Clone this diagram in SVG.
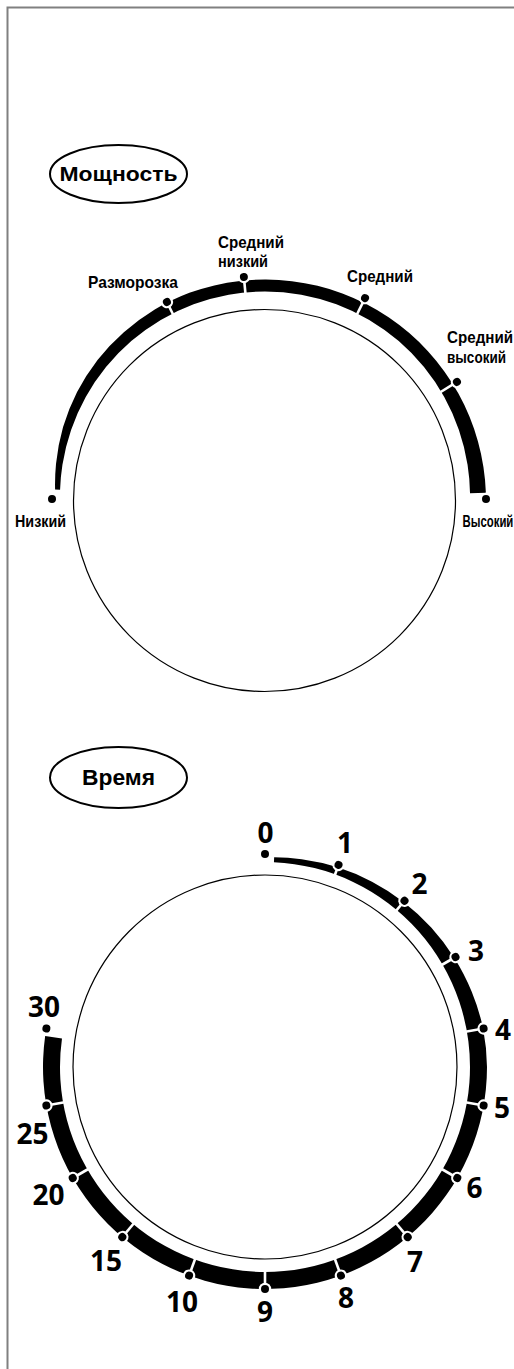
<svg xmlns="http://www.w3.org/2000/svg" width="514" height="1369" viewBox="0 0 514 1369">
<style>
.frame{fill:none;stroke:#808080;stroke-width:2}
.dial{fill:none;stroke:#000;stroke-width:1.2}
.band{fill:#000}
.gap{stroke:#fff;stroke-width:2.6}
.halo{fill:#fff}
.dot{fill:#000}
.oval{fill:none;stroke:#000;stroke-width:2}
.title{font-family:"Liberation Sans",Arial,sans-serif;font-weight:bold;font-size:21px;text-anchor:middle}
.pl{font-family:"Liberation Sans",Arial,sans-serif;font-weight:bold;font-size:16.5px}
.tl{font-family:"Open Sans",sans-serif;font-weight:700;font-size:28px;text-anchor:middle}
</style>
<defs>
<g id="pm"><line class="gap" x1="0" y1="0" x2="0" y2="22"/><circle class="halo" r="6.2"/><circle class="dot" r="4"/></g>
<g id="tm"><line class="gap" x1="0" y1="0" x2="0" y2="20"/><circle class="halo" r="6.2"/><circle class="dot" r="4"/></g>
<g id="em"><circle class="halo" r="6.2"/><circle class="dot" r="4"/></g>
</defs>
<rect width="514" height="1369" fill="#fff"/>
<path class="frame" d="M7.5,1369 V7.5 H514"/>

<g id="power-title">
<ellipse class="oval" cx="118.5" cy="174" rx="68.5" ry="29"/>
<text class="title" x="118.5" y="180.5" textLength="118" lengthAdjust="spacingAndGlyphs">Мощность</text>
</g>

<g id="power-dial">
<circle class="dial" cx="264.5" cy="500.5" r="191"/>
<path class="band" d="M55.09,489.50 A211,211 0 0 1 56.02,463.65 A213,213 0 0 1 63.06,427.00 A216,216 0 0 1 77.07,392.00 A218,218 0 0 1 97.54,359.99 A219,219 0 0 1 123.84,332.28 A220,220 0 0 1 154.75,309.54 A221,221 0 0 1 189.41,292.83 A221,221 0 0 1 485.87,492.79 L470.01,493.34 A205.5,205.5 0 0 0 467.57,464.78 A206,206 0 0 0 458.92,429.92 A206.7,206.7 0 0 0 444.27,397 A207.3,207.3 0 0 0 424.01,367.08 A207.8,207.8 0 0 0 398.74,341.12 A208.3,208.3 0 0 0 369.23,319.97 A208.6,208.6 0 0 0 336.40,304.33 A208.9,208.9 0 0 0 301.28,294.73 A209,209 0 0 0 265,291.5 A209,209 0 0 0 228.72,294.73 A208.9,208.9 0 0 0 193.60,304.33 A208.6,208.6 0 0 0 160.77,319.97 A208.3,208.3 0 0 0 131.26,341.12 A207.8,207.8 0 0 0 105.99,367.08 A207.3,207.3 0 0 0 85.73,397 A206.7,206.7 0 0 0 71.08,429.92 A206,206 0 0 0 62.43,464.78 A205.5,205.5 0 0 0 60.07,489.76 Z"/>
</g>

<g id="p-low"><use href="#em" transform="rotate(-89.6 265 500.5) translate(265 287.5)"/><text class="pl" x="15" y="527" textLength="51" lengthAdjust="spacingAndGlyphs">Низкий</text></g>
<g id="p-defrost"><use href="#pm" transform="rotate(-26.3 265 500.5) translate(265 279.1)"/><text class="pl" x="88" y="288" textLength="90" lengthAdjust="spacingAndGlyphs">Разморозка</text></g>
<g id="p-medlow"><use href="#pm" transform="rotate(-5.4 265 500.5) translate(265 276)"/><text class="pl" x="218" y="248" textLength="66" lengthAdjust="spacingAndGlyphs">Средний</text><text class="pl" x="218" y="267" textLength="50" lengthAdjust="spacingAndGlyphs">низкий</text></g>
<g id="p-med"><use href="#pm" transform="rotate(26.3 265 500.5) translate(265 274.7)"/><text class="pl" x="347" y="282" textLength="66" lengthAdjust="spacingAndGlyphs">Средний</text></g>
<g id="p-medhigh"><use href="#pm" transform="rotate(58.3 265 500.5) translate(265 274.9)"/><text class="pl" transform="matrix(0.92,0,0,1,447,343)">Средний</text><text class="pl" transform="matrix(0.82,0,0,1,447,363)">высокий</text></g>
<g id="p-high"><use href="#em" transform="rotate(89.6 265 500.5) translate(265 279.5)"/><text class="pl" transform="matrix(0.69,0,0,1,462.5,527)">Высокий</text></g>

<g id="time-title">
<ellipse class="oval" cx="118.5" cy="777.5" rx="68.5" ry="30.5"/>
<text class="title" x="118.5" y="785" textLength="73" lengthAdjust="spacingAndGlyphs" style="font-size:22.5px">Время</text>
</g>

<g id="time-dial">
<circle class="dial" cx="265" cy="1067" r="192"/>
<path class="band" d="M274.16,857.20 A210.5,210.5 0 0 1 301.64,859.21 A212,212 0 0 1 337.68,867.32 A213,213 0 0 1 372,881.67 A215,215 0 0 1 403.52,901.92 A216,216 0 0 1 431.23,927.51 A218,218 0 0 1 454.23,957.75 A219,219 0 0 1 471.73,991.76 A221,221 0 0 1 483.13,1028.54 A222,222 0 0 1 487,1067 A222,222 0 1 1 45.16,1036.10 L61.99,1038.47 A205,205 0 1 0 273.94,862.19 Z"/>
</g>

<g id="t0"><use href="#em" transform="translate(265 854)"/><text class="tl" x="265.5" y="843">0</text></g>
<g id="t1"><use href="#tm" transform="rotate(20 265 1067) translate(265 852)"/><text class="tl" x="345" y="853">1</text></g>
<g id="t2"><use href="#tm" transform="rotate(40 265 1067) translate(265 850)"/><text class="tl" x="419.5" y="894">2</text></g>
<g id="t3"><use href="#tm" transform="rotate(60 265 1067) translate(265 847)"/><text class="tl" x="476" y="961">3</text></g>
<g id="t4"><use href="#tm" transform="rotate(80 265 1067) translate(265 845)"/><text class="tl" x="503" y="1040">4</text></g>
<g id="t5"><use href="#tm" transform="rotate(100 265 1067) translate(265 845)"/><text class="tl" x="502" y="1118">5</text></g>
<g id="t6"><use href="#tm" transform="rotate(120 265 1067) translate(265 845)"/><text class="tl" x="474.5" y="1198">6</text></g>
<g id="t7"><use href="#tm" transform="rotate(140 265 1067) translate(265 845)"/><text class="tl" x="415" y="1272">7</text></g>
<g id="t8"><use href="#tm" transform="rotate(160 265 1067) translate(265 845)"/><text class="tl" x="346" y="1308">8</text></g>
<g id="t9"><use href="#tm" transform="rotate(180 265 1067) translate(265 845)"/><text class="tl" x="265" y="1322">9</text></g>
<g id="t10"><use href="#tm" transform="rotate(200 265 1067) translate(265 845)"/><text class="tl" x="182" y="1312">10</text></g>
<g id="t15"><use href="#tm" transform="rotate(220 265 1067) translate(265 845)"/><text class="tl" x="106" y="1271">15</text></g>
<g id="t20"><use href="#tm" transform="rotate(240 265 1067) translate(265 845)"/><text class="tl" x="48.5" y="1205">20</text></g>
<g id="t25"><use href="#tm" transform="rotate(260 265 1067) translate(265 845)"/><text class="tl" x="32.5" y="1144">25</text></g>
<g id="t30"><use href="#em" transform="rotate(280 265 1067) translate(265 845)"/><text class="tl" x="44" y="1017">30</text></g>
</svg>
